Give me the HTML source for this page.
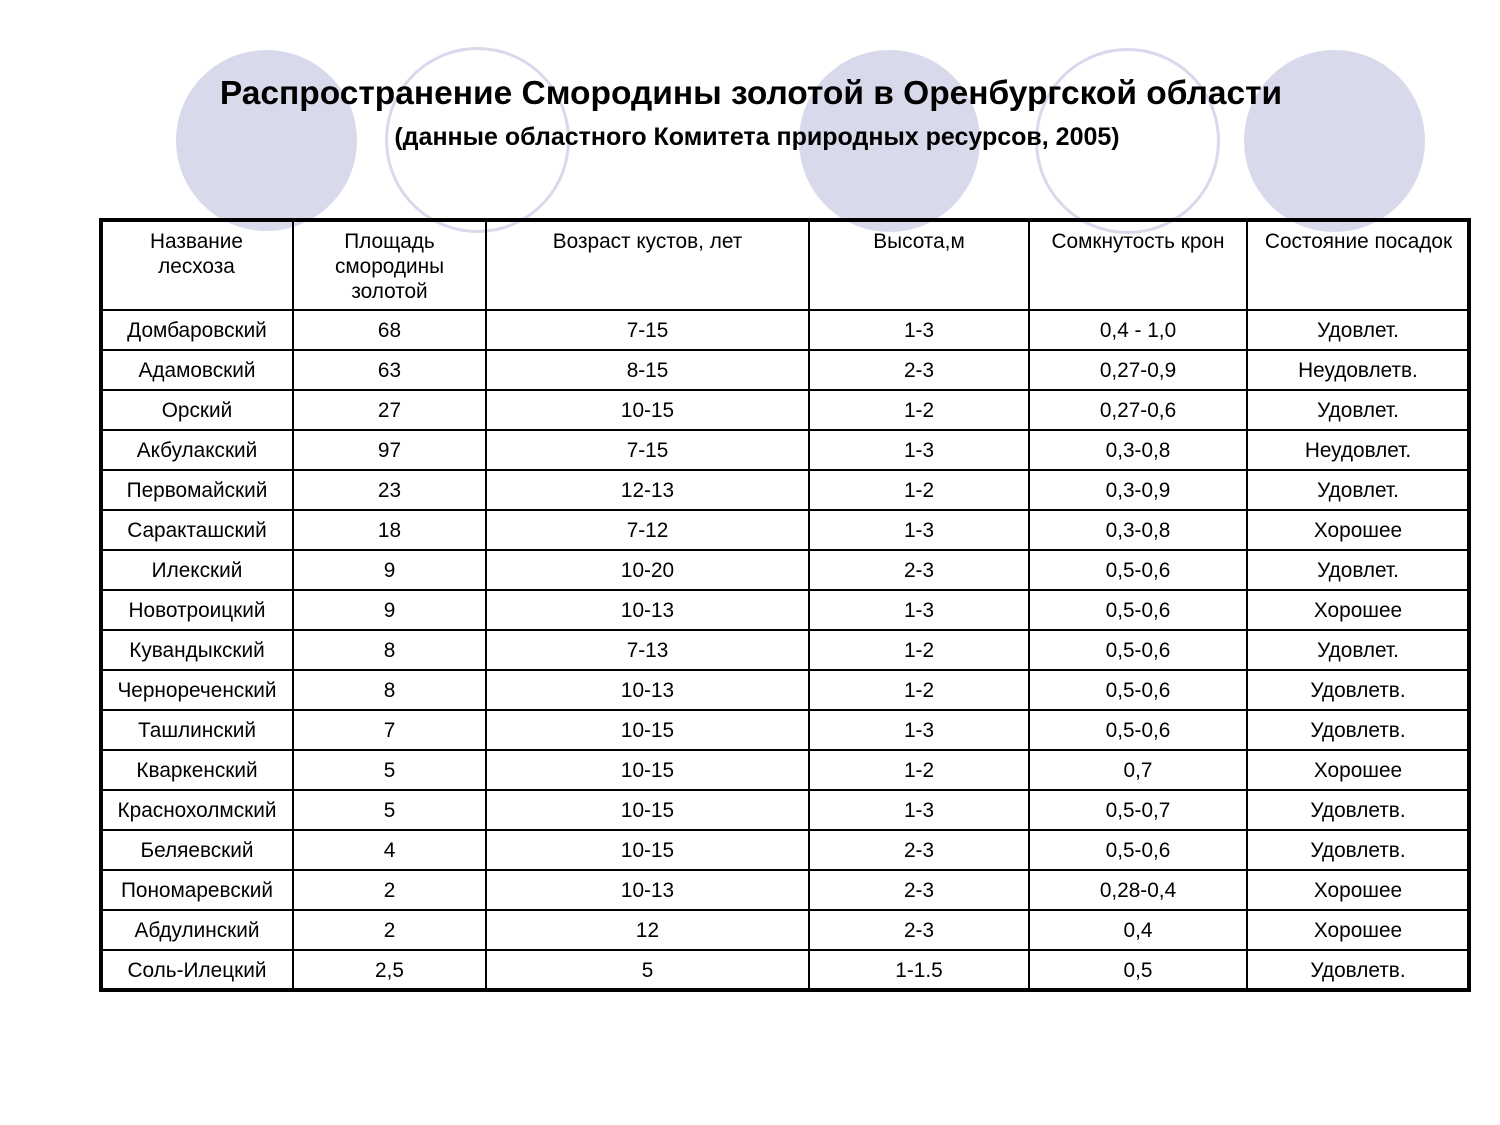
<!DOCTYPE html>
<html><head><meta charset="utf-8">
<style>
body{margin:0;width:1500px;height:1125px;background:#fff;position:relative;overflow:hidden;font-family:"Liberation Sans",Arial,sans-serif;}
.c{position:absolute;border-radius:50%;}
.f{background:#d9d9ec;}
.o{border:3px solid #d9d9ec;box-sizing:border-box;}
.t{position:absolute;white-space:nowrap;color:#000;}
.h{position:absolute;background:#000;height:2px;left:101px;width:1368px;}
.v{position:absolute;background:#000;width:2px;top:220px;height:770px;}
.hd{position:absolute;text-align:center;font-size:20.8px;line-height:25px;top:229px;}
table{border-collapse:collapse;position:absolute;left:101px;top:311px;width:1368px;table-layout:fixed;font-size:20.8px;text-align:center;}
td{padding:0;height:40px;line-height:38px;vertical-align:middle;white-space:nowrap;overflow:visible;}
</style></head><body>
<div class="c f" style="left:176px;top:50px;width:181px;height:181px"></div>
<div class="c o" style="left:385px;top:47px;width:185px;height:186px"></div>
<div class="c f" style="left:799px;top:50px;width:181px;height:182px"></div>
<div class="c o" style="left:1035px;top:48px;width:185px;height:186px"></div>
<div class="c f" style="left:1244px;top:50px;width:181px;height:182px"></div>

<div class="t" style="left:0;width:1502px;text-align:center;top:75px;font-size:33.5px;font-weight:bold;">Распространение Смородины золотой в Оренбургской области</div>
<div class="t" style="left:0;width:1514px;text-align:center;top:123px;font-size:25px;font-weight:bold;">(данные областного Комитета природных ресурсов, 2005)</div>

<div style="position:absolute;left:99px;top:218px;width:1372px;height:774px;border:4px solid #000;box-sizing:border-box;"></div>
<div class="v" style="left:292px"></div>
<div class="v" style="left:485px"></div>
<div class="v" style="left:808px"></div>
<div class="v" style="left:1028px"></div>
<div class="v" style="left:1246px"></div>
<div class="h" style="top:309px"></div>
<div class="h" style="top:349px"></div>
<div class="h" style="top:389px"></div>
<div class="h" style="top:429px"></div>
<div class="h" style="top:469px"></div>
<div class="h" style="top:509px"></div>
<div class="h" style="top:549px"></div>
<div class="h" style="top:589px"></div>
<div class="h" style="top:629px"></div>
<div class="h" style="top:669px"></div>
<div class="h" style="top:709px"></div>
<div class="h" style="top:749px"></div>
<div class="h" style="top:789px"></div>
<div class="h" style="top:829px"></div>
<div class="h" style="top:869px"></div>
<div class="h" style="top:909px"></div>
<div class="h" style="top:949px"></div>

<div class="hd" style="left:101px;width:191px">Название<br>лесхоза</div>
<div class="hd" style="left:294px;width:191px">Площадь<br>смородины<br>золотой</div>
<div class="hd" style="left:487px;width:321px">Возраст кустов, лет</div>
<div class="hd" style="left:810px;width:218px">Высота,м</div>
<div class="hd" style="left:1030px;width:216px">Сомкнутость крон</div>
<div class="hd" style="left:1248px;width:221px">Состояние посадок</div>

<table>
<colgroup><col style="width:192px"><col style="width:193px"><col style="width:323px"><col style="width:220px"><col style="width:218px"><col style="width:222px"></colgroup>
<tr><td>Домбаровский</td><td>68</td><td>7-15</td><td>1-3</td><td>0,4 - 1,0</td><td>Удовлет.</td></tr>
<tr><td>Адамовский</td><td>63</td><td>8-15</td><td>2-3</td><td>0,27-0,9</td><td>Неудовлетв.</td></tr>
<tr><td>Орский</td><td>27</td><td>10-15</td><td>1-2</td><td>0,27-0,6</td><td>Удовлет.</td></tr>
<tr><td>Акбулакский</td><td>97</td><td>7-15</td><td>1-3</td><td>0,3-0,8</td><td>Неудовлет.</td></tr>
<tr><td>Первомайский</td><td>23</td><td>12-13</td><td>1-2</td><td>0,3-0,9</td><td>Удовлет.</td></tr>
<tr><td>Саракташский</td><td>18</td><td>7-12</td><td>1-3</td><td>0,3-0,8</td><td>Хорошее</td></tr>
<tr><td>Илекский</td><td>9</td><td>10-20</td><td>2-3</td><td>0,5-0,6</td><td>Удовлет.</td></tr>
<tr><td>Новотроицкий</td><td>9</td><td>10-13</td><td>1-3</td><td>0,5-0,6</td><td>Хорошее</td></tr>
<tr><td>Кувандыкский</td><td>8</td><td>7-13</td><td>1-2</td><td>0,5-0,6</td><td>Удовлет.</td></tr>
<tr><td>Чернореченский</td><td>8</td><td>10-13</td><td>1-2</td><td>0,5-0,6</td><td>Удовлетв.</td></tr>
<tr><td>Ташлинский</td><td>7</td><td>10-15</td><td>1-3</td><td>0,5-0,6</td><td>Удовлетв.</td></tr>
<tr><td>Кваркенский</td><td>5</td><td>10-15</td><td>1-2</td><td>0,7</td><td>Хорошее</td></tr>
<tr><td>Краснохолмский</td><td>5</td><td>10-15</td><td>1-3</td><td>0,5-0,7</td><td>Удовлетв.</td></tr>
<tr><td>Беляевский</td><td>4</td><td>10-15</td><td>2-3</td><td>0,5-0,6</td><td>Удовлетв.</td></tr>
<tr><td>Пономаревский</td><td>2</td><td>10-13</td><td>2-3</td><td>0,28-0,4</td><td>Хорошее</td></tr>
<tr><td>Абдулинский</td><td>2</td><td>12</td><td>2-3</td><td>0,4</td><td>Хорошее</td></tr>
<tr><td>Соль-Илецкий</td><td>2,5</td><td>5</td><td>1-1.5</td><td>0,5</td><td>Удовлетв.</td></tr>
</table>
</body></html>
